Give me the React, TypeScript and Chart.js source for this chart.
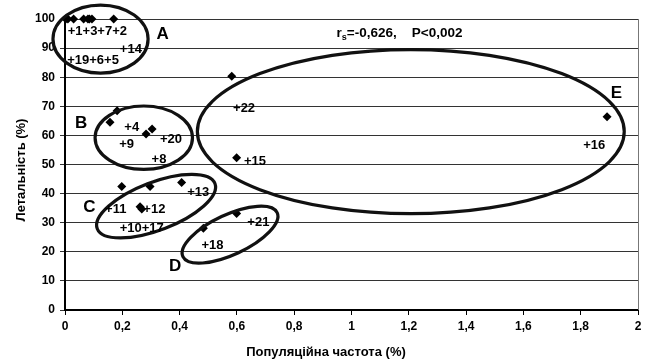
import React, { useEffect, useRef } from "react";
import { Chart, registerables } from "chart.js";

Chart.register(...registerables);

// ---- data ----
const pointIds = [1, 3, 7, 2, 19, 6, 5, 14, 4, 9, 20, 8, 11, 12, 13, 10, 17, 18, 21, 22, 15, 16];
const frequencyValues = [0.003, 0.03, 0.065, 0.08, 0.01, 0.085, 0.094, 0.17, 0.182, 0.157, 0.304, 0.283, 0.198, 0.262, 0.407, 0.268, 0.297, 0.483, 0.599, 0.582, 0.599, 1.892];
const lethalityValues = [100, 100, 100, 100, 100, 100, 100, 100, 68.5, 64.5, 62.2, 60.5, 42.4, 35.5, 43.8, 34.7, 42.4, 28.1, 33.2, 80.3, 52.3, 66.4];

const xMin = 0;
const xMax = 2;
const xStep = 0.2;
const yMin = 0;
const yMax = 100;
const yStep = 10;

// point annotation labels (data coordinates of text centre)
const labelTexts = ["+1+3+7+2", "+14", "+19+6+5", "+4", "+9", "+20", "+8", "+22", "+15", "+16", "+11", "+12", "+13", "+10+17", "+21", "+18"];
const labelX = [0.113, 0.23, 0.098, 0.233, 0.215, 0.37, 0.328, 0.625, 0.663, 1.847, 0.177, 0.312, 0.465, 0.268, 0.675, 0.515];
const labelY = [95.6, 89.6, 85.9, 62.7, 57.0, 58.7, 51.9, 69.1, 51.0, 56.7, 34.4, 34.4, 40.4, 28.1, 30.0, 22.1];

// groups
const groupLetters = ["A", "B", "C", "D", "E"];
const groupLetterX = [0.341, 0.056, 0.085, 0.384, 1.925];
const groupLetterY = [94.7, 64.2, 35.2, 15.1, 74.5];
const groupCenterX = [0.124, 0.275, 0.318, 0.576, 1.207];
const groupCenterY = [93.1, 59.2, 35.7, 25.9, 61.3];
const groupRadiusX = [0.166, 0.17, 0.22, 0.1815, 0.745];
const groupRadiusY = [11.7, 10.9, 8.25, 6.87, 28.2];
const groupAngleDeg = [0, 0, -21, -25, 0];

const statText = "=-0,626,    P<0,002";
const statX = 0.948;
const statY = 95.1;

const xTitle = "Популяційна частота (%)";
const yTitle = "Летальність (%)";

const FONT = 'Arial, "Liberation Sans", sans-serif';

const overlayPlugin = {
  id: "overlay",
  beforeDatasetsDraw(chart: any) {
    const { ctx, chartArea } = chart;
    ctx.save();
    ctx.strokeStyle = "#777";
    ctx.lineWidth = 1;
    ctx.beginPath();
    ctx.moveTo(chartArea.right + 0.5, chartArea.top);
    ctx.lineTo(chartArea.right + 0.5, chartArea.bottom);
    ctx.stroke();
    ctx.restore();
  },
  afterDraw(chart: any) {
    const { ctx } = chart;
    const xs = chart.scales.x;
    const ys = chart.scales.y;
    const pxPerX = Math.abs(xs.getPixelForValue(1) - xs.getPixelForValue(0));
    const pxPerY = Math.abs(ys.getPixelForValue(0) - ys.getPixelForValue(1));
    ctx.save();
    // ellipses
    ctx.strokeStyle = "#111";
    ctx.lineWidth = 3.2;
    for (let i = 0; i < groupLetters.length; i++) {
      ctx.beginPath();
      ctx.ellipse(
        xs.getPixelForValue(groupCenterX[i]),
        ys.getPixelForValue(groupCenterY[i]),
        groupRadiusX[i] * pxPerX,
        groupRadiusY[i] * pxPerY,
        (groupAngleDeg[i] * Math.PI) / 180,
        0,
        Math.PI * 2
      );
      ctx.stroke();
    }
    ctx.fillStyle = "#000";
    ctx.textAlign = "center";
    ctx.textBaseline = "middle";
    ctx.font = `bold 13px ${FONT}`;
    for (let i = 0; i < labelTexts.length; i++) {
      ctx.fillText(labelTexts[i], xs.getPixelForValue(labelX[i]), ys.getPixelForValue(labelY[i]));
    }
    ctx.font = `bold 17px ${FONT}`;
    for (let i = 0; i < groupLetters.length; i++) {
      ctx.fillText(groupLetters[i], xs.getPixelForValue(groupLetterX[i]), ys.getPixelForValue(groupLetterY[i]));
    }
    // statistic
    const sx = xs.getPixelForValue(statX);
    const sy = ys.getPixelForValue(statY);
    ctx.textAlign = "left";
    ctx.font = `bold 13.5px ${FONT}`;
    ctx.fillText("r", sx, sy);
    const rw = ctx.measureText("r").width;
    ctx.font = `bold 9px ${FONT}`;
    ctx.fillText("s", sx + rw, sy + 4);
    const sw = ctx.measureText("s").width;
    ctx.font = `bold 13.5px ${FONT}`;
    ctx.fillText(statText, sx + rw + sw, sy);
    // axis titles
    ctx.textAlign = "center";
    ctx.font = `bold 13px ${FONT}`;
    ctx.fillText(xTitle, 326, 352);
    ctx.translate(21, 170);
    ctx.rotate(-Math.PI / 2);
    ctx.fillText(yTitle, 0, 0);
    ctx.restore();
  },
};

export default function App() {
  const canvasRef = useRef<HTMLCanvasElement | null>(null);

  useEffect(() => {
    if (!canvasRef.current) return;
    const tickFont = { family: FONT, size: 12, weight: "bold" as const };
    const chart = new Chart(canvasRef.current, {
      type: "scatter",
      data: {
        datasets: [
          {
            label: "points",
            data: frequencyValues.map((x, i) => ({ x, y: lethalityValues[i], id: pointIds[i] })),
            pointStyle: "rectRot",
            pointRadius: 4.5,
            backgroundColor: "#000",
            borderColor: "#000",
            borderWidth: 0,
            clip: false as any,
          },
        ],
      },
      options: {
        responsive: false,
        animation: false,
        layout: { padding: { left: 0, right: 9, top: 19, bottom: 0 } },
        plugins: { legend: { display: false }, tooltip: { enabled: false } },
        scales: {
          x: {
            type: "linear",
            min: xMin,
            max: xMax,
            ticks: {
              stepSize: xStep,
              color: "#000",
              font: tickFont,
              padding: 4,
              maxRotation: 0,
              autoSkip: false,
              callback: (v: any) => String(Math.round(Number(v) * 10) / 10).replace(".", ","),
            },
            grid: { drawOnChartArea: false, drawTicks: true, tickLength: 5, color: "#000" },
            border: { color: "#000", width: 2 },
            afterFit: (s: any) => {
              s.height = 53;
            },
          },
          y: {
            type: "linear",
            min: yMin,
            max: yMax,
            ticks: { stepSize: yStep, color: "#000", font: tickFont, padding: 5 },
            grid: { color: "#333", lineWidth: 1, tickLength: 5 },
            border: { color: "#000", width: 2 },
            afterFit: (s: any) => {
              s.width = 65;
            },
          },
        },
      },
      plugins: [overlayPlugin],
    });
    return () => chart.destroy();
  }, []);

  return (
    <div style={{ position: "fixed", left: 0, top: 0, width: 647, height: 363, background: "#fff" }}>
      <canvas ref={canvasRef} width={647} height={363} />
    </div>
  );
}
